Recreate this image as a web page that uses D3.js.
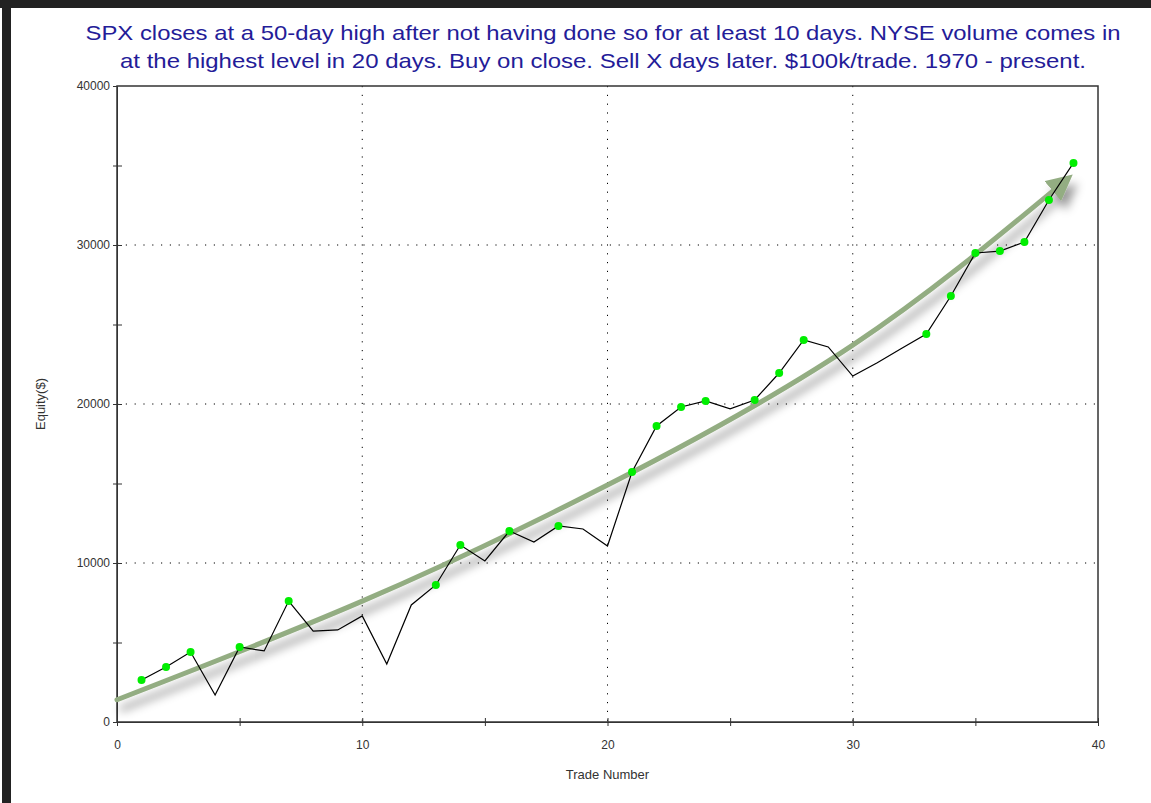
<!DOCTYPE html>
<html>
<head>
<meta charset="utf-8" />
<title>SPX equity curve</title>
<style>
body { margin: 0; background: #fff; }
#graph { width: 1151px; height: 803px; font-family: "Liberation Sans", Arial, sans-serif; }
.grid line { stroke: #000; stroke-dasharray: 1.2 7.6; }
.axis path, .axis line { stroke: #333; }
.axis text { fill: #333; font-size: 12px; }
</style>
</head>
<body>
<div id="graph"></div>
<script src="https://cdnjs.cloudflare.com/ajax/libs/d3/7.8.5/d3.min.js"></script>
<script>
// equity after each trade
var trades = d3.range(1, 40)
var equity = [2640, 3460, 4400, 1700, 4720, 4470, 7610, 5720, 5790, 6670,
              3650, 7360, 8620, 11130, 10130, 12010, 11320, 12330, 12140, 11070,
              15720, 18620, 19810, 20190, 19690, 20250, 21950, 24030, 23590, 21760,
              22600, 23500, 24400, 26790, 29500, 29620, 30190, 32830, 35160]
// hand drawn trend arrow, in data units
var trendX = [0, 10, 20, 30, 38.4]
var trendY = [1400, 7600, 14900, 23700, 33700]
var xTicks = [0, 10, 20, 30, 40]
var yTicks = [0, 10000, 20000, 30000, 40000]
var titleLines = [
    "SPX closes at a 50-day high after not having done so for at least 10 days. NYSE volume comes in",
    "at the highest level in 20 days. Buy on close. Sell X days later. $100k/trade. 1970 - present."
]

!(function(){
    "use strict"

    var width = 1151, height = 803
    var margin = {top: 86, left: 117, bottom: 81, right: 53}
    var chartWidth = width - margin.left - margin.right
    var chartHeight = height - margin.top - margin.bottom

    var svg = d3.select("#graph").append("svg").attr("width", width).attr("height", height)

    // dark window edges
    svg.append("rect").attr("x", 0).attr("y", 0).attr("width", width).attr("height", 8).attr("fill", "#222")
    svg.append("rect").attr("x", 2).attr("y", 0).attr("width", 9).attr("height", height).attr("fill", "#222")

    var defs = svg.append("defs")
    var shadow = defs.append("filter").attr("id", "shadow")
        .attr("x", "-10%").attr("y", "-10%").attr("width", "130%").attr("height", "140%")
    shadow.append("feDropShadow").attr("dx", 5).attr("dy", 9).attr("stdDeviation", 5)
        .attr("flood-color", "#000").attr("flood-opacity", 0.4)
    defs.append("marker").attr("id", "head")
        .attr("markerUnits", "userSpaceOnUse")
        .attr("viewBox", "0 0 10 10").attr("refX", 3).attr("refY", 5)
        .attr("markerWidth", 26).attr("markerHeight", 26)
        .attr("orient", "auto")
        .append("path").attr("d", "M0,0 L10,5 L0,10 Z").attr("fill", "#93ad82")

    var g = svg.append("g").attr("transform", "translate(" + [margin.left, margin.top] + ")")

    var x = d3.scaleLinear().domain([0, 40]).range([0, chartWidth])
    var y = d3.scaleLinear().domain([0, 40000]).range([chartHeight, 0])

    // dotted grid
    var grid = g.append("g").attr("class", "grid")
    grid.selectAll(".gx").data(xTicks.slice(1, -1)).enter().append("line")
        .attr("x1", function(d){ return x(d) }).attr("x2", function(d){ return x(d) })
        .attr("y1", 0).attr("y2", chartHeight)
    grid.selectAll(".gy").data(yTicks.slice(1, -1)).enter().append("line")
        .attr("y1", function(d){ return y(d) }).attr("y2", function(d){ return y(d) })
        .attr("x1", 0).attr("x2", chartWidth)

    // frame
    g.append("rect").attr("width", chartWidth).attr("height", chartHeight)
        .attr("fill", "none").attr("stroke", "#333").attr("stroke-width", 1.5)

    // axes: major ticks labelled, minor ticks in between
    var yAxis = g.append("g").attr("class", "axis")
        .call(d3.axisLeft(y).tickValues(d3.range(0, 40001, 5000)).tickSizeInner(4).tickSizeOuter(0)
            .tickFormat(function(d){ return yTicks.indexOf(d) >= 0 ? d : "" }))
    yAxis.selectAll(".tick line").attr("x1", 5)
    yAxis.select(".tick:last-of-type line").attr("x1", 0)

    var xAxis = g.append("g").attr("class", "axis")
        .attr("transform", "translate(0," + chartHeight + ")")
        .call(d3.axisBottom(x).tickValues(d3.range(0, 41, 5)).tickSizeInner(4).tickSizeOuter(0).tickPadding(12)
            .tickFormat(function(d){ return xTicks.indexOf(d) >= 0 ? d : "" }))
    xAxis.selectAll(".tick line").attr("y1", -4)
    xAxis.selectAll("text").attr("dy", "0.9em")

    // trend arrow
    var trend = trendX.map(function(d, i){ return [d, trendY[i]] })
    g.append("path").datum(trend)
        .attr("fill", "none")
        .attr("stroke", "#93ad82")
        .attr("stroke-width", 5)
        .attr("stroke-linecap", "round")
        .attr("filter", "url(#shadow)")
        .attr("marker-end", "url(#head)")
        .attr("d", d3.line().curve(d3.curveNatural)
            .x(function(d){ return x(d[0]) }).y(function(d){ return y(d[1]) }))

    // equity line
    var data = trades.map(function(t, i){ return {t: t, v: equity[i]} })
    g.append("path").datum(data)
        .attr("fill", "none").attr("stroke", "#000").attr("stroke-width", 1.2)
        .attr("d", d3.line().x(function(d){ return x(d.t) }).y(function(d){ return y(d.v) }))

    // green dots on new equity highs
    var peak = -Infinity
    var highs = data.filter(function(d){
        if (d.v > peak) { peak = d.v; return true }
        return false
    })
    g.selectAll(".dot").data(highs).enter().append("circle")
        .attr("cx", function(d){ return x(d.t) }).attr("cy", function(d){ return y(d.v) })
        .attr("r", 4).attr("fill", "#00ee00")

    // titles
    svg.selectAll(".title").data(titleLines).enter().append("text")
        .attr("x", 603).attr("y", function(d, i){ return 40 + i * 28 })
        .attr("text-anchor", "middle")
        .attr("fill", "#241c98")
        .attr("font-size", 21)
        .attr("textLength", function(d, i){ return i === 0 ? 1035 : 966 })
        .attr("lengthAdjust", "spacingAndGlyphs")
        .text(function(d){ return d })

    svg.append("text").attr("x", margin.left + chartWidth / 2).attr("y", 779)
        .attr("text-anchor", "middle").attr("font-size", 13).attr("fill", "#333")
        .text("Trade Number")
    svg.append("text").attr("transform", "translate(45," + (margin.top + chartHeight / 2) + ") rotate(-90)")
        .attr("text-anchor", "middle").attr("font-size", 13).attr("fill", "#333")
        .text("Equity($)")
}());
</script>
</body>
</html>
